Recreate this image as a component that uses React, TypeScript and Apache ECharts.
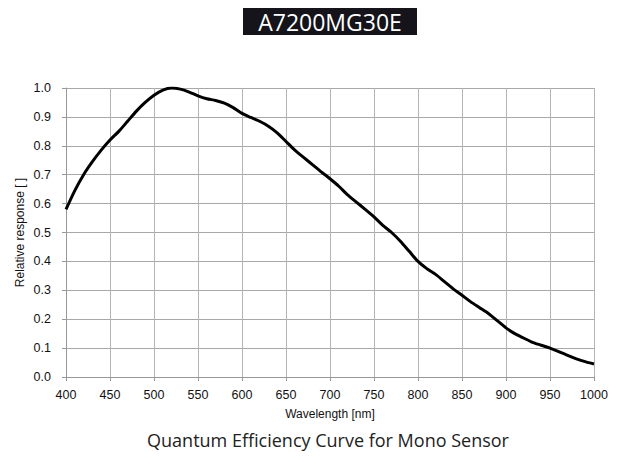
import React, { useEffect, useRef } from "react";
import * as echarts from "echarts";

const wavelengths: number[] = [
  400, 410, 420, 430, 440, 450, 460, 470, 480, 490, 500, 510, 520, 530, 540, 550, 560, 570, 580, 590,
  600, 610, 620, 630, 640, 650, 660, 670, 680, 690, 700, 710, 720, 730, 740, 750, 760, 770, 780, 790,
  800, 810, 820, 830, 840, 850, 860, 870, 880, 890, 900, 910, 920, 930, 940, 950, 960, 970, 980, 990, 1000,
];
const response: number[] = [
  0.58, 0.645, 0.7, 0.745, 0.785, 0.82, 0.85, 0.885, 0.92, 0.95, 0.975, 0.993, 1.0, 0.996, 0.986, 0.973,
  0.963, 0.957, 0.948, 0.932, 0.912, 0.898, 0.885, 0.868, 0.845, 0.815, 0.785, 0.76, 0.735, 0.71, 0.686,
  0.66, 0.63, 0.605, 0.58, 0.554, 0.525, 0.5, 0.47, 0.435, 0.4, 0.375, 0.355, 0.33, 0.305, 0.283, 0.26,
  0.24, 0.22, 0.195, 0.17, 0.15, 0.135, 0.12, 0.11, 0.1, 0.088, 0.075, 0.063, 0.053, 0.045,
];
const titleText = "A7200MG30E";
const captionText = "Quantum Efficiency Curve for Mono Sensor";
const xAxisName = "Wavelength [nm]";
const yAxisName = "Relative response [ ]";

export default function App() {
  const ref = useRef<HTMLDivElement>(null);
  useEffect(() => {
    if (!ref.current) return;
    const chart = echarts.init(ref.current, null, { renderer: "svg" });
    const font = "'Liberation Sans', Arial, sans-serif";
    chart.setOption({
      animation: false,
      backgroundColor: "#ffffff",
      grid: { left: 66, right: 25, top: 88, bottom: 80 },
      xAxis: {
        type: "value",
        min: 400,
        max: 1000,
        interval: 50,
        name: xAxisName,
        nameLocation: "middle",
        nameGap: 31,
        nameMoveOverlap: false,
        nameTextStyle: { fontFamily: font, fontSize: 12, color: "#111" },
        axisLine: { show: true, lineStyle: { color: "#999", width: 1 } },
        axisTick: { show: true, length: 4, lineStyle: { color: "#999" } },
        axisLabel: {
          fontFamily: font,
          fontSize: 12.5,
          color: "#111",
          margin: 11,
          formatter: (v: number) => String(v),
        },
        splitLine: { show: true, lineStyle: { color: "#b4b4b4", width: 1 } },
      },
      yAxis: {
        type: "value",
        min: 0,
        max: 1,
        interval: 0.1,
        name: yAxisName,
        nameLocation: "middle",
        nameGap: 40,
        nameMoveOverlap: false,
        nameTextStyle: { fontFamily: font, fontSize: 12, color: "#111" },
        axisLine: { show: true, lineStyle: { color: "#999", width: 1 } },
        axisTick: { show: true, length: 4, lineStyle: { color: "#999" } },
        axisLabel: {
          fontFamily: font,
          fontSize: 12.5,
          color: "#111",
          margin: 15,
          formatter: (v: number) => v.toFixed(1),
        },
        splitLine: { show: true, lineStyle: { color: "#a8a8a8", width: 1 } },
      },
      series: [
        {
          type: "line",
          data: wavelengths.map((w, i) => [w, response[i]]),
          smooth: 0.25,
          showSymbol: false,
          lineStyle: { color: "#000", width: 3 },
        },
      ],
      graphic: [
        {
          type: "rect",
          left: 243,
          top: 8,
          shape: { width: 174, height: 27 },
          style: { fill: "#14141a" },
        },
        {
          type: "text",
          x: 330,
          y: 21.5,
          style: {
            text: titleText,
            fill: "#ffffff",
            font: "23px 'Open Sans', sans-serif",
            textAlign: "center",
            textVerticalAlign: "middle",
          },
        },
        {
          type: "text",
          x: 328,
          y: 440,
          style: {
            text: captionText,
            fill: "#222",
            font: "18px 'Open Sans', sans-serif",
            textAlign: "center",
            textVerticalAlign: "middle",
          },
        },
      ],
    });
    return () => chart.dispose();
  }, []);
  return <div ref={ref} style={{ width: 619, height: 457, position: "absolute", left: 0, top: 0 }} />;
}
